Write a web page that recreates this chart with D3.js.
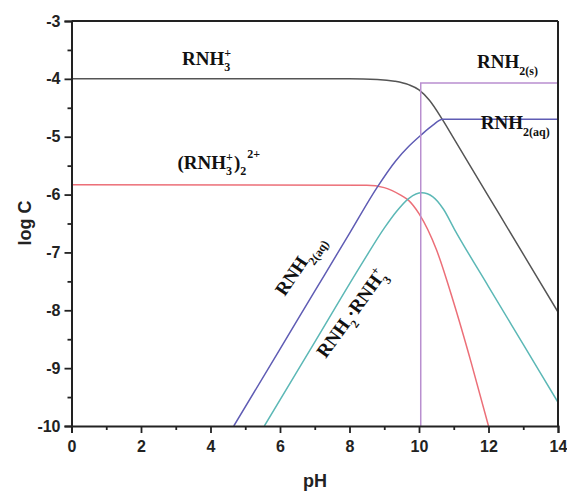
<!DOCTYPE html>
<html>
<head>
<meta charset="utf-8">
<script src="https://cdn.jsdelivr.net/npm/d3@7"></script>
<style>
  body { margin: 0; background: #fff; }
  svg { display: block; }
</style>
</head>
<body>
<svg id="chart" width="567" height="491"></svg>
<script>
// ---- data ----
const xTicks = [0, 2, 4, 6, 8, 10, 12, 14];
const xMinorTicks = [1, 3, 5, 7, 9, 11, 13];
const yTicks = [-10, -9, -8, -7, -6, -5, -4, -3];
const yMinorTicks = [-9.5, -8.5, -7.5, -6.5, -5.5, -4.5, -3.5];

// RNH3+ (black)
const rnh3PH   = [0, 8, 8.8, 9.3, 9.7, 10.0, 10.3, 10.68, 11.0, 12, 13, 14];
const rnh3LogC = [-4, -4, -4.01, -4.04, -4.1, -4.19, -4.37, -4.71, -5.03, -6.03, -7.03, -8.03];

// RNH2(aq) (blue)
const rnh2aqPH   = [4.67, 6, 7, 8, 8.8, 9.34, 9.7, 10.06, 10.4, 10.68, 12, 14];
const rnh2aqLogC = [-10, -8.67, -7.67, -6.67, -5.87, -5.41, -5.17, -4.97, -4.8, -4.7, -4.7, -4.7];

// (RNH3+)2 2+ (red)
const dimerPH   = [0, 8.5, 9.0, 9.5, 9.7, 10.0, 10.5, 11.0, 11.5, 12.0];
const dimerLogC = [-5.83, -5.84, -5.88, -6.02, -6.1, -6.33, -6.95, -7.87, -8.9, -10];

// RNH2.RNH3+ (cyan)
const ionPH   = [5.55, 7, 8.4, 9.0, 9.34, 9.72, 10.08, 10.4, 10.7, 11.02, 12, 13, 14];
const ionLogC = [-10, -8.55, -7.15, -6.58, -6.3, -6.06, -5.97, -6.04, -6.25, -6.6, -7.59, -8.59, -9.59];

// RNH2(s) (purple)
const solidPH   = [10.05, 10.05, 14];
const solidLogC = [-10, -4.07, -4.07];

// ---- layout ----
const svg = d3.select("#chart");
const x = d3.scaleLinear().domain([0, 14]).range([71.5, 558]);
const y = d3.scaleLinear().domain([-10, -3]).range([426, 21]);

const axisFont = "'Liberation Sans', Arial, sans-serif";
const labelFont = "'Liberation Serif', 'Times New Roman', serif";

// clip
svg.append("defs").append("clipPath").attr("id", "plotclip")
  .append("rect").attr("x", x(0)).attr("y", y(-3))
  .attr("width", x(14) - x(0)).attr("height", y(-10) - y(-3));

const plot = svg.append("g").attr("clip-path", "url(#plotclip)");

function series(px, py) { return px.map((v, i) => [v, py[i]]); }

const smooth = d3.line().x(d => x(d[0])).y(d => y(d[1])).curve(d3.curveMonotoneX);
const straight = d3.line().x(d => x(d[0])).y(d => y(d[1]));

const lines = [
  { d: series(rnh3PH, rnh3LogC), color: "#555555", gen: smooth },
  { d: series(dimerPH, dimerLogC), color: "#ec6f78", gen: smooth },
  { d: series(ionPH, ionLogC), color: "#5cb8b6", gen: smooth },
  { d: series(rnh2aqPH, rnh2aqLogC), color: "#5f5cb4", gen: smooth },
  { d: series(solidPH, solidLogC), color: "#b98fcf", gen: straight }
];

plot.selectAll("path.series").data(lines).join("path")
  .attr("class", "series")
  .attr("fill", "none")
  .attr("stroke", d => d.color)
  .attr("stroke-width", 1.5)
  .attr("d", d => d.gen(d.d));

// ---- axes ----
const fmt = d => String(d);
svg.append("g").attr("transform", `translate(0,${y(-10)})`)
  .call(d3.axisBottom(x).tickValues(xTicks).tickSize(7).tickPadding(8).tickFormat(fmt));
svg.append("g").attr("transform", `translate(0,${y(-10)})`)
  .call(d3.axisBottom(x).tickValues(xMinorTicks).tickSize(4).tickFormat(""))
  .select(".domain").remove();

svg.append("g").attr("transform", `translate(${x(0)},0)`)
  .call(d3.axisLeft(y).tickValues(yTicks).tickSize(7).tickPadding(4).tickFormat(fmt));
svg.append("g").attr("transform", `translate(${x(0)},0)`)
  .call(d3.axisLeft(y).tickValues(yMinorTicks).tickSize(4).tickFormat(""))
  .select(".domain").remove();

svg.selectAll(".tick text")
  .attr("font-family", axisFont).attr("font-weight", "bold")
  .attr("font-size", 16).attr("fill", "#222");
svg.selectAll(".tick line").attr("stroke", "#222").attr("stroke-width", 1.8);
svg.selectAll(".domain").attr("stroke", "#222").attr("stroke-width", 2);

// frame top and right
svg.append("line").attr("x1", x(0)).attr("x2", x(14)).attr("y1", y(-3)).attr("y2", y(-3))
  .attr("stroke", "#222").attr("stroke-width", 2);
svg.append("line").attr("x1", x(14)).attr("x2", x(14)).attr("y1", y(-3)).attr("y2", y(-10))
  .attr("stroke", "#222").attr("stroke-width", 2);

// axis titles
svg.append("text").attr("x", 315).attr("y", 487).attr("text-anchor", "middle")
  .attr("font-family", axisFont).attr("font-weight", "bold").attr("font-size", 18)
  .attr("fill", "#222").text("pH");
svg.append("text").attr("transform", "translate(31,223) rotate(-90)").attr("text-anchor", "middle")
  .attr("font-family", axisFont).attr("font-weight", "bold").attr("font-size", 18)
  .attr("fill", "#222").text("log C");

// ---- species labels ----
function label(g, parts) {
  const t = g.append("text").attr("font-family", labelFont).attr("font-weight", "bold")
    .attr("fill", "#111").attr("font-size", 19);
  parts.forEach(p => {
    const s = t.append("tspan").text(p.t);
    if (p.fs) s.attr("font-size", p.fs);
    if (p.dy) s.attr("dy", p.dy);
    if (p.dx) s.attr("dx", p.dx);
  });
  return t;
}

// RNH3+
label(svg.append("g").attr("transform", `translate(${x(3.18)},${y(-3.76)})`), [
  { t: "RNH" }, { t: "3", fs: 12, dy: 6 }, { t: "+", fs: 12, dy: -14, dx: -6 }
]);

// RNH2(s)
label(svg.append("g").attr("transform", `translate(${x(11.67)},${y(-3.81)})`), [
  { t: "RNH" }, { t: "2(s)", fs: 12, dy: 7 }
]);

// RNH2(aq)
label(svg.append("g").attr("transform", `translate(${x(11.78)},${y(-4.86)})`), [
  { t: "RNH" }, { t: "2(aq)", fs: 12, dy: 7 }
]);

// (RNH3+)2 2+
label(svg.append("g").attr("transform", `translate(${x(3.05)},${y(-5.56)})`), [
  { t: "(RNH" }, { t: "3", fs: 12, dy: 6 }, { t: "+", fs: 12, dy: -14, dx: -6 },
  { t: ")", dy: 8, dx: 1 }, { t: "2", fs: 12, dy: 6 }, { t: "2+", fs: 12, dy: -17, dx: 1 }
]);

// rotated RNH2(aq) along the blue line
label(svg.append("g").attr("transform", `translate(${x(6.14)},${y(-7.77)}) rotate(-56)`), [
  { t: "RNH" }, { t: "2(aq)", fs: 12, dy: 7 }
]);

// rotated RNH2.RNH3+ along the cyan line
label(svg.append("g").attr("transform", `translate(${x(7.32)},${y(-8.84)}) rotate(-54)`), [
  { t: "RNH" }, { t: "2", fs: 12, dy: 7 }, { t: "·RNH", dy: -7 }, { t: "3", fs: 12, dy: 7 },
  { t: "+", fs: 12, dy: -15, dx: -6 }
]);
</script>
</body>
</html>
